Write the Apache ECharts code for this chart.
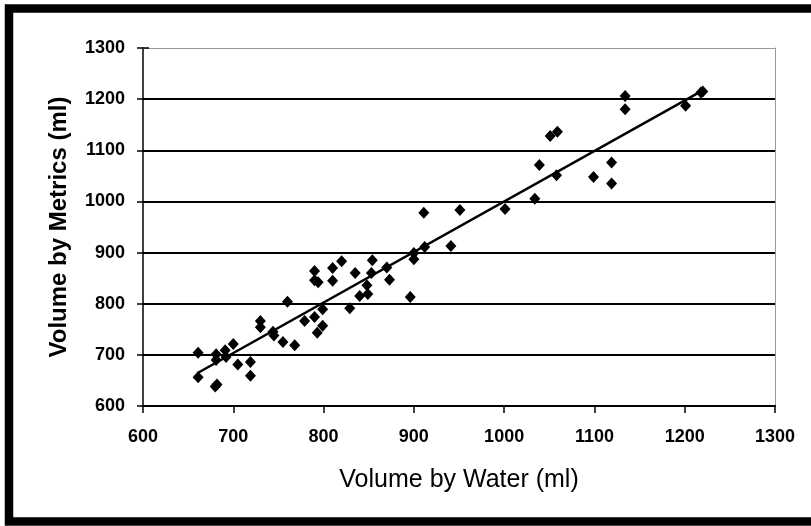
<!DOCTYPE html>
<html><head><meta charset="utf-8">
<script src="https://cdn.jsdelivr.net/npm/echarts@6/dist/echarts.min.js"></script>
<style>html,body{margin:0;padding:0;background:#fff;}#c{width:811px;height:526px;}</style>
</head><body><div id="c"></div>
<script>
var waterVolume = [661,661,680,682,681,681,691,692,700,705,719,719,730,730,744,745,755,760,768,779,790,790,794,790,793,799,799,810,810,820,829,835,840,849,848,854,853,870,873,896,900,900,912,941,951,911,1001,1034,1039,1051,1059,1058,1099,1119,1119,1134,1134,1201,1220,1218];
var metricsVolume = [704,656,638,642,701,690,709,696,721,681,686,659,766,754,745,738,725,804,719,766,864,846,842,774,743,789,757,870,845,883,791,860,815,819,836,885,860,871,847,813,899,887,911,913,983,978,985,1005,1071,1128,1136,1051,1048,1076,1035,1206,1180,1187,1215,1213];
var trendX = [660, 1220];
var trendY = [664, 1217];
var xTicks = [600,700,800,900,1000,1100,1200,1300];
var yTicks = [600,700,800,900,1000,1100,1200,1300];

var pts = waterVolume.map(function(v,i){return [v, metricsVolume[i]];});
var trend = trendX.map(function(v,i){return [v, trendY[i]];});
var chart = echarts.init(document.getElementById('c'), null, {renderer:'canvas'});
var font = 'Liberation Sans, Arial, sans-serif';
chart.setOption({
  backgroundColor:'#fff',
  animation:false,
  graphic:[{type:'rect', z:100, shape:{x:9, y:8.5, width:900, height:513}, style:{fill:'none', stroke:'#000', lineWidth:8.5}}],
  grid:{left:143, right:36, top:48, bottom:120},
  xAxis:[{type:'value', min:600, max:1300, interval:100,
    name:'Volume by Water (ml)', nameLocation:'middle', nameGap:62,
    nameTextStyle:{fontFamily:font, fontSize:25, color:'#000'},
    axisLine:{lineStyle:{color:'#000', width:2}},
    axisTick:{show:true, inside:false, length:7, lineStyle:{color:'#000', width:1.5}},
    axisLabel:{fontFamily:font, fontWeight:'bold', fontSize:18, color:'#000', margin:22,
      formatter:function(v){return xTicks.indexOf(v)>=0?String(v):'';}},
    splitLine:{show:false}},
   {type:'value', position:'top', min:600, max:1300, axisLine:{show:true, lineStyle:{color:'#999', width:1}}, axisTick:{show:false}, axisLabel:{show:false}, splitLine:{show:false}}],
  yAxis:[{type:'value', min:600, max:1300, interval:100,
    name:'Volume by Metrics (ml)', nameLocation:'middle', nameGap:72,
    nameTextStyle:{fontFamily:font, fontWeight:'bold', fontSize:24, color:'#000'},
    axisLine:{show:true, lineStyle:{color:'#000', width:1.5}},
    axisTick:{show:false},
    axisLabel:{fontFamily:font, fontWeight:'bold', fontSize:18, color:'#000', margin:18,
      formatter:function(v){return yTicks.indexOf(v)>=0?String(v):'';}},
    splitLine:{show:true, lineStyle:{color:['#000','#000','#000','#000','#000','#000','#000','rgba(0,0,0,0)'], width:2}}},
   {type:'value', position:'right', min:600, max:1300, axisLine:{show:true, lineStyle:{color:'#999', width:1}}, axisTick:{show:false}, axisLabel:{show:false}, splitLine:{show:false}},
   {type:'value', position:'left', min:600, max:1300, interval:100, axisLine:{show:false}, axisTick:{show:true, inside:true, length:6, lineStyle:{color:'#000', width:1.5}}, axisLabel:{show:false}, splitLine:{show:false}},
   {type:'value', position:'left', min:600, max:1300, interval:100, axisLine:{show:false}, axisTick:{show:true, inside:false, length:6, lineStyle:{color:'#000', width:1.5}}, axisLabel:{show:false}, splitLine:{show:false}}],
  series:[
    {type:'scatter', data:pts, symbol:'diamond', symbolSize:[11,12], itemStyle:{color:'#000', opacity:1}, z:3},
    {type:'line', data:trend, symbol:'none', lineStyle:{color:'#000', width:2.5}, z:4}
  ]
});
</script></body></html>
